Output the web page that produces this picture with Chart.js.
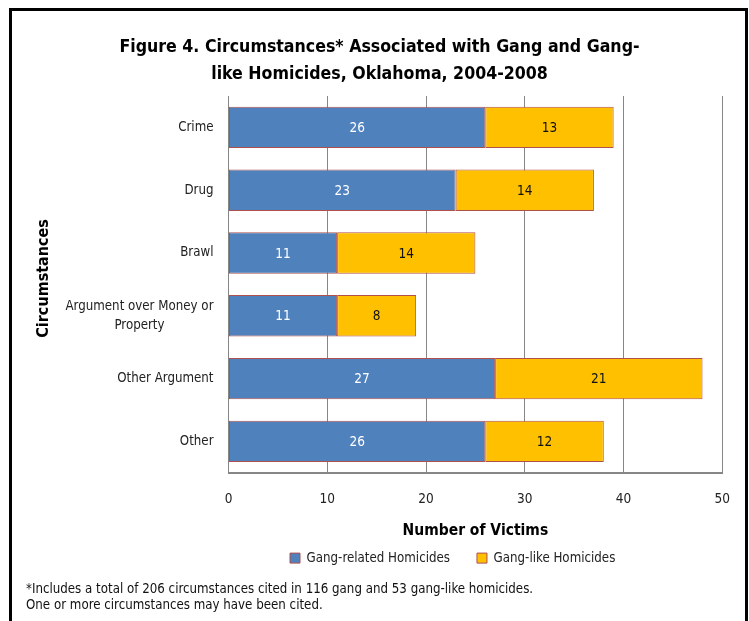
<!DOCTYPE html>
<html>
<head>
<meta charset="utf-8">
<script src="https://cdn.jsdelivr.net/npm/chart.js@4.4.1/dist/chart.umd.min.js"></script>
<style>
html, body { margin: 0; padding: 0; background: #fff; overflow: hidden; }
#wrap { position: relative; width: 749px; height: 621px; }
#frame { position: absolute; left: 9px; top: 8px; width: 733px; height: 640px; border: 3px solid #000; }
#graph { position: absolute; left: 0; top: 0; }
#note { position: absolute; left: 26px; top: 581px; font: 13.2px 'Liberation Sans Narrow', 'Arial Narrow', 'DejaVu Sans Condensed', sans-serif; line-height: 16px; color: #111; }
</style>
</head>
<body>
<div id="wrap">
  <div id="frame"></div>
  <canvas id="graph" width="749" height="621"></canvas>
  <div id="note">*Includes a total of 206 circumstances cited in 116 gang and 53 gang-like homicides.<br>One or more circumstances may have been cited.</div>
</div>
<script>
var narrow = "'Liberation Sans Narrow', 'Arial Narrow', 'DejaVu Sans Condensed', sans-serif";

// data
var categories = [['Crime'], ['Drug'], ['Brawl'], ['Argument over Money or', 'Property'], ['Other Argument'], ['Other']];
var gangRelated = [26, 23, 11, 11, 27, 26];
var gangLike = [13, 14, 14, 8, 21, 12];
var xMin = 0, xMax = 50, xStep = 10;
var yTitle = 'Circumstances';

Chart.defaults.font.family = narrow;
Chart.defaults.color = '#222';

// numbers in the middle of each bar piece
var barLabels = {
    id: 'barLabels',
    afterDatasetsDraw: function(chart) {
        var ctx = chart.ctx;
        ctx.save();
        ctx.font = '13.5px ' + narrow;
        ctx.textAlign = 'center';
        ctx.textBaseline = 'middle';
        chart.data.datasets.forEach(function(ds, i) {
            var meta = chart.getDatasetMeta(i);
            meta.data.forEach(function(bar, j) {
                ctx.fillStyle = i == 0 ? '#fff' : '#111';
                ctx.fillText(ds.data[j], (bar.x + bar.base) / 2, bar.y + 1);
            });
        });
        ctx.restore();
    }
};

// category names, right aligned block, lines centred inside it; axis title a bit above centre
var catLabels = {
    id: 'catLabels',
    afterDraw: function(chart) {
        var y = chart.scales.y;
        var ctx = chart.ctx;
        ctx.save();
        ctx.font = '13.2px ' + narrow;
        ctx.fillStyle = '#222';
        ctx.textAlign = 'center';
        ctx.textBaseline = 'middle';
        var right = y.right - 15;
        var lh = 19;
        categories.forEach(function(lines, i) {
            var w = 0;
            lines.forEach(function(l) { w = Math.max(w, ctx.measureText(l).width); });
            var cy = y.getPixelForValue(i);
            lines.forEach(function(l, k) {
                ctx.fillText(l, right - w / 2, cy + (k - (lines.length - 1) / 2) * lh);
            });
        });

        ctx.font = 'bold 16px ' + narrow;
        ctx.fillStyle = '#000';
        ctx.translate(y.left + 7.5, (y.top + y.bottom) / 2 - 6);
        ctx.rotate(-Math.PI / 2);
        ctx.fillText(yTitle, 0, 0);
        ctx.restore();
    }
};

// put legend where the original has it
var legendPlace = {
    id: 'legendPlace',
    afterLayout: function(chart) {
        var lg = chart.legend;
        var pad = lg.options.labels.padding;
        var w = lg.right - lg.left, h = lg.bottom - lg.top;
        lg.left = 290 - pad; lg.right = lg.left + w;
        lg.top = 558 - 6.5 - pad; lg.bottom = lg.top + h;
    }
};

var g = document.getElementById('graph').getContext('2d');

var graph = new Chart(g, {
    type: 'bar',
    data: {
        labels: categories,
        datasets: [{
            label: 'Gang-related Homicides',
            data: gangRelated,
            backgroundColor: '#4f81bd',
            borderColor: '#b0504d',
            borderWidth: 1,
            borderSkipped: false,
            barPercentage: 0.66,
            categoryPercentage: 1
        }, {
            label: 'Gang-like Homicides',
            data: gangLike,
            backgroundColor: '#ffc000',
            borderColor: '#b0504d',
            borderWidth: 1,
            borderSkipped: false,
            barPercentage: 0.66,
            categoryPercentage: 1
        }]
    },
    options: {
        indexAxis: 'y',
        responsive: false,
        animation: false,
        layout: { padding: { left: 36, right: 26, top: 0, bottom: 31 } },
        scales: {
            x: {
                stacked: true,
                min: xMin,
                max: xMax,
                ticks: { stepSize: xStep, padding: 19, font: { size: 13.5 }, color: '#222' },
                grid: { color: '#868686', lineWidth: 1, drawTicks: false },
                border: { color: '#868686', width: 2 },
                title: { display: true, text: 'Number of Victims', color: '#000',
                         font: { size: 15.5, weight: 'bold' }, padding: 0 },
                afterFit: function(s) { s.height = 67; }
            },
            y: {
                stacked: true,
                ticks: { display: false },
                grid: { display: false },
                border: { color: '#868686', width: 1 },
                afterFit: function(s) { s.width = 192.5; }
            }
        },
        plugins: {
            title: {
                display: true,
                text: ['Figure 4. Circumstances* Associated with Gang and Gang-', 'like Homicides, Oklahoma, 2004-2008'],
                color: '#000',
                font: { size: 17.6, weight: 'bold', lineHeight: 27 / 17.6 },
                padding: { top: 33.5, bottom: 8.5 }
            },
            legend: {
                position: 'bottom',
                align: 'start',
                labels: { boxWidth: 10, boxHeight: 10, padding: 27, font: { size: 13.2 }, color: '#222' }
            },
            tooltip: { enabled: false }
        }
    },
    plugins: [barLabels, catLabels, legendPlace]
});
</script>
</body>
</html>
